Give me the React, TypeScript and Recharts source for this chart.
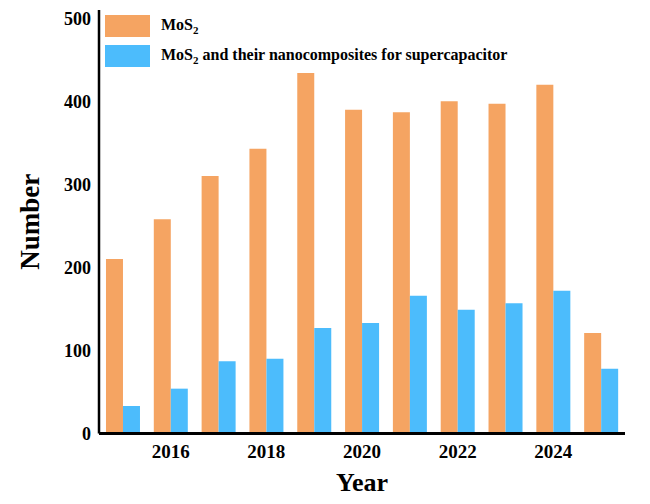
import React from "react";
import { BarChart, Bar, XAxis, YAxis, Legend } from "recharts";

const years = [2015, 2016, 2017, 2018, 2019, 2020, 2021, 2022, 2023, 2024, 2025];
const mos2 = [210, 258, 310, 343, 434, 390, 387, 400, 397, 420, 121];
const supercap = [33, 54, 87, 90, 127, 133, 166, 149, 157, 172, 78];
const yTicks = [0, 100, 200, 300, 400, 500];

const ORANGE = "#F5A462";
const BLUE = "#4CBCFC";
const FONT = "'Liberation Serif', 'Times New Roman', serif";

const data = years.map((year, i) => ({ year, mos2: mos2[i], supercap: supercap[i] }));

function LegendBox() {
  const row = (color: string, label: React.ReactNode) => (
    <div style={{ display: "flex", alignItems: "center", height: 30 }}>
      <div style={{ width: 45, height: 22, background: color, marginRight: 11 }} />
      <span style={{ fontFamily: FONT, fontWeight: 700, fontSize: 16, color: "#000", whiteSpace: "nowrap" }}>
        {label}
      </span>
    </div>
  );
  return (
    <div>
      {row(ORANGE, <>MoS<sub style={{ fontSize: 11 }}>2</sub></>)}
      {row(BLUE, <>MoS<sub style={{ fontSize: 11 }}>2</sub> and their nanocomposites for supercapacitor</>)}
    </div>
  );
}

function YLabel({ viewBox }: any) {
  const { x, y, height } = viewBox;
  const cx = x + 30;
  const cy = y + height / 2;
  return (
    <text
      x={cx}
      y={cy}
      transform={`rotate(-90 ${cx} ${cy})`}
      textAnchor="middle"
      dominantBaseline="central"
      style={{ fontFamily: FONT, fontWeight: 700, fontSize: 27, fill: "#000" }}
    >
      Number
    </text>
  );
}

function XLabel({ viewBox }: any) {
  const { x, y, width } = viewBox;
  return (
    <text
      x={x + width / 2}
      y={y + 57}
      textAnchor="middle"
      style={{ fontFamily: FONT, fontWeight: 700, fontSize: 26, fill: "#000" }}
    >
      Year
    </text>
  );
}

export default function App() {
  return (
    <div style={{ position: "absolute", left: 0, top: 0, background: "#fff" }}>
      <BarChart
        width={650}
        height={504}
        data={data}
        margin={{ top: 10, right: 25, bottom: 0, left: 0 }}
        barCategoryGap="14.6%"
        barGap={0}
      >
        <XAxis
          dataKey="year"
          type="category"
          height={70.5}
          interval={0}
          tickLine={false}
          axisLine={{ stroke: "#000", strokeWidth: 3 }}
          tickMargin={5}
          tickFormatter={(v: number) => (v % 2 === 0 ? String(v) : "")}
          tick={{ fill: "#000", fontSize: 19, fontWeight: 700, fontFamily: FONT }}
          label={<XLabel />}
        />
        <XAxis
          xAxisId="top"
          dataKey="year"
          orientation="top"
          height={0}
          tick={false}
          tickLine={false}
          axisLine={{ stroke: "#222", strokeWidth: 2 }}
        />
        <YAxis
          width={99}
          domain={[0, 510]}
          ticks={yTicks}
          interval={0}
          tickLine={false}
          axisLine={{ stroke: "#000", strokeWidth: 2.5 }}
          tick={{ fill: "#000", fontSize: 18, fontWeight: 700, fontFamily: FONT }}
          label={<YLabel />}
        />
        <YAxis
          yAxisId="right"
          orientation="right"
          width={0}
          domain={[0, 510]}
          tick={false}
          tickLine={false}
          axisLine={{ stroke: "#000", strokeWidth: 3 }}
        />
        <Legend
          layout="vertical"
          align="center"
          verticalAlign="middle"
          wrapperStyle={{ top: 11, left: 105, width: "auto" }}
          content={<LegendBox />}
        />
        <Bar dataKey="mos2" fill={ORANGE} isAnimationActive={false} />
        <Bar dataKey="supercap" fill={BLUE} isAnimationActive={false} />
      </BarChart>
    </div>
  );
}
